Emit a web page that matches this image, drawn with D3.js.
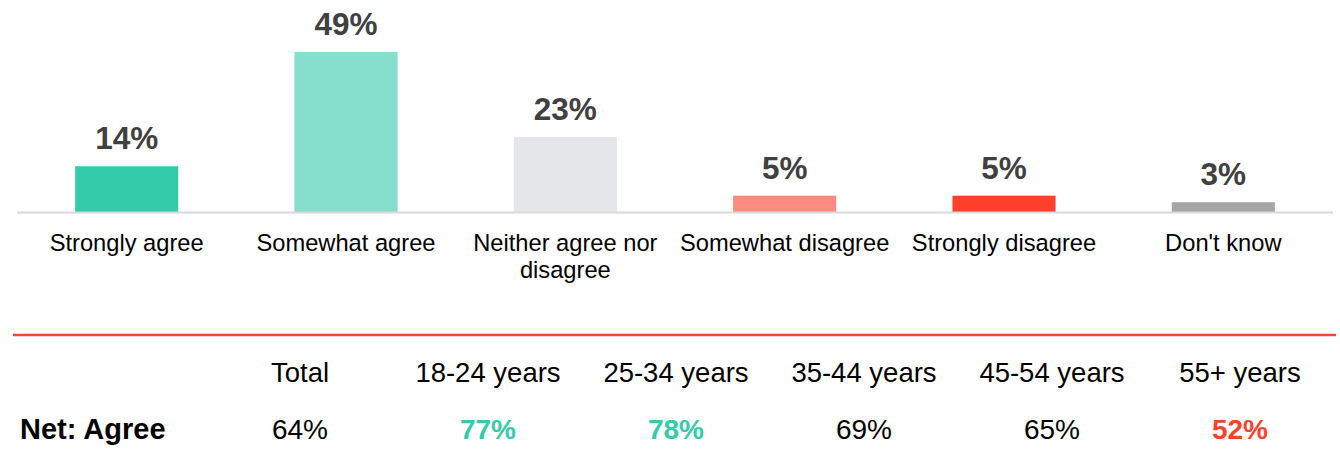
<!DOCTYPE html>
<html>
<head>
<meta charset="utf-8">
<script src="https://cdn.jsdelivr.net/npm/d3@7"></script>
<style>
  body { margin: 0; background: #fff; }
  text { font-family: "Liberation Sans", Arial, sans-serif; }
</style>
</head>
<body>
<script>
const categories = ['Strongly agree', 'Somewhat agree', 'Neither agree nor disagree', 'Somewhat disagree', 'Strongly disagree', "Don't know"]
const values = [14, 49, 23, 5, 5, 3]
const barColors = ['#33cbaa', '#85dfcc', '#e5e6ea', '#ff8c80', '#ff412c', '#a6a6a6']

const groups = ['Total', '18-24 years', '25-34 years', '35-44 years', '45-54 years', '55+ years']
const netAgree = [64, 77, 78, 69, 65, 52]
const netColors = ['#000', '#33cbaa', '#33cbaa', '#000', '#000', '#ff412c']
const netBold = [false, true, true, false, false, true]

const width = 1340
const height = 462
const baseY = 212

const svg = d3.select('body')
  .append('svg')
  .attr('width', width)
  .attr('height', height)

const xscale = d3.scaleBand()
  .domain(categories)
  .range([17, 1333])
  .paddingInner(0.53)
  .paddingOuter(0.265)

const yscale = d3.scaleLinear().domain([0, 49]).range([baseY, 52])

// bars
svg.selectAll('rect.bar')
  .data(values)
  .join('rect')
  .attr('class', 'bar')
  .attr('x', (d, i) => xscale(categories[i]))
  .attr('width', xscale.bandwidth())
  .attr('y', (d) => yscale(d))
  .attr('height', (d) => baseY - yscale(d))
  .attr('fill', (d, i) => barColors[i])

// baseline
svg.append('line')
  .attr('x1', 17).attr('x2', 1333)
  .attr('y1', baseY + 0.5).attr('y2', baseY + 0.5)
  .attr('stroke', '#d9d9d9')
  .attr('stroke-width', 2)

// value labels
svg.selectAll('text.val')
  .data(values)
  .join('text')
  .attr('class', 'val')
  .attr('x', (d, i) => xscale(categories[i]) + xscale.bandwidth() / 2)
  .attr('y', (d) => yscale(d) - 17)
  .attr('text-anchor', 'middle')
  .attr('font-size', 31.5)
  .attr('font-weight', 'bold')
  .attr('fill', '#404040')
  .text((d) => d + '%')

// category labels (wrap long one)
const catLines = {'Neither agree nor disagree': ['Neither agree nor', 'disagree']}
svg.selectAll('text.cat')
  .data(categories)
  .join('text')
  .attr('class', 'cat')
  .attr('x', (d) => xscale(d) + xscale.bandwidth() / 2)
  .attr('y', 251)
  .attr('text-anchor', 'middle')
  .attr('font-size', 23.7)
  .attr('fill', '#000')
  .each(function (d) {
    const lines = catLines[d] || [d]
    const t = d3.select(this)
    lines.forEach((l, j) => {
      t.append('tspan')
        .attr('x', xscale(d) + xscale.bandwidth() / 2)
        .attr('dy', j === 0 ? 0 : 27)
        .text(l)
    })
  })

// separator
svg.append('line')
  .attr('x1', 13).attr('x2', 1336)
  .attr('y1', 335).attr('y2', 335)
  .attr('stroke', '#ff4433')
  .attr('stroke-width', 2.5)

// table
const colscale = d3.scalePoint().domain(groups).range([300, 1240])

svg.selectAll('text.grp')
  .data(groups)
  .join('text')
  .attr('class', 'grp')
  .attr('x', (d) => colscale(d))
  .attr('y', 382)
  .attr('text-anchor', 'middle')
  .attr('font-size', 27.5)
  .attr('fill', '#000')
  .text((d) => d)

svg.append('text')
  .attr('x', 20)
  .attr('y', 439)
  .attr('font-size', 29)
  .attr('font-weight', 'bold')
  .attr('fill', '#000')
  .text('Net: Agree')

svg.selectAll('text.net')
  .data(netAgree)
  .join('text')
  .attr('class', 'net')
  .attr('x', (d, i) => colscale(groups[i]))
  .attr('y', 439)
  .attr('text-anchor', 'middle')
  .attr('font-size', 28)
  .attr('font-weight', (d, i) => netBold[i] ? 'bold' : 'normal')
  .attr('fill', (d, i) => netColors[i])
  .text((d) => d + '%')
</script>
</body>
</html>
